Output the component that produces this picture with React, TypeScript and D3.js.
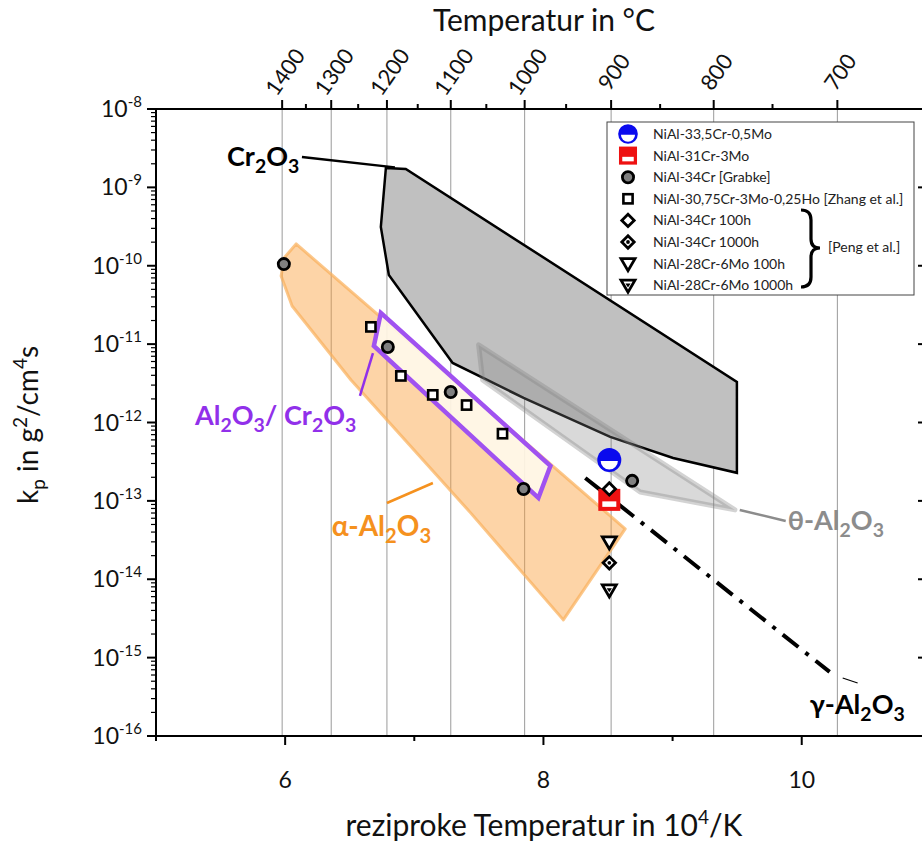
import React from "react";
import * as d3 from "d3";

const FONT = "Lato, 'Open Sans', Arial, sans-serif";

// ---- axes ----
const xMin = 5;
const xMax = 10.97;
const xTicksMajor = [6, 8, 10];
const xTicksMinor = [5, 7, 9];
const yExponents = [-8, -9, -10, -11, -12, -13, -14, -15, -16];
const tempMajor = [1400, 1300, 1200, 1100, 1000, 900, 800, 700];
const tempMinor = [1350, 1250, 1150, 1050, 950, 850, 750];

// ---- data series (x in 10^4/K, y = kp in g^2/cm^4 s) ----
const grabkeX = [5.99, 6.795, 7.282, 7.846, 8.687];
const grabkeY = [1.05e-10, 9.2e-12, 2.45e-12, 1.42e-13, 1.8e-13];
const zhangX = [6.664, 6.896, 7.143, 7.405, 7.683];
const zhangY = [1.66e-11, 3.93e-12, 2.25e-12, 1.67e-12, 7.2e-13];
const mo05X = [8.51];
const mo05Y = [3.33e-13];
const mo3X = [8.51];
const mo3Y = [1.03e-13];
const peng34_100X = [8.51];
const peng34_100Y = [1.42e-13];
const peng34_1000X = [8.51];
const peng34_1000Y = [1.62e-14];
const peng28_100X = [8.51];
const peng28_100Y = [3.0e-14];
const peng28_1000X = [8.51];
const peng28_1000Y = [7.3e-15];

// ---- regions ----
const cr2o3X = [6.78, 6.934, 9.498, 9.498, 9.004, 8.517, 7.846, 7.297, 6.803, 6.741];
const cr2o3Y = [1.77e-9, 1.72e-9, 3.3e-12, 2.28e-13, 3.53e-13, 6.55e-13, 2.06e-12, 5.75e-12, 7.64e-11, 3.13e-10];
const thetaX = [7.498, 7.529, 8.749, 9.483];
const thetaY = [9.77e-12, 3.49e-12, 1.3e-13, 7.67e-14];
const alphaX = [6.085, 8.633, 8.154, 7.436, 6.51, 6.054, 5.969, 5.992];
const alphaY = [1.9e-10, 4.4e-14, 3.03e-15, 7.03e-14, 3.49e-12, 3.07e-11, 7.41e-11, 1.26e-10];
const mixedX = [6.741, 8.054, 7.961, 6.687];
const mixedY = [2.5e-11, 2.79e-13, 1.09e-13, 9.48e-12];
const gammaX = [8.324, 10.216];
const gammaY = [1.96e-13, 6.59e-16];

// ---- annotations (data units) ----
const cr2o3Label = { x: 5.55, y: 1.88e-9, lx: [6.13, 6.85], ly: [2.44e-9, 1.8e-9] };
const mixedLabel = { x: 5.302, y: 9.3e-13, lx: [6.68, 6.579], ly: [7.7e-12, 2.18e-12] };
const alphaLabel = { x: 6.36, y: 3.56e-14, lx: [6.788, 7.144], ly: [9.4e-14, 1.69e-13] };
const thetaLabel = { x: 9.892, y: 4.25e-14, lx: [9.52, 9.876], ly: [7.66e-14, 5.53e-14] };
const gammaLabel = { x: 10.062, y: 1.9e-16, lx: [10.317, 10.433], ly: [5.5e-16, 4.74e-16] };

const legendNames = [
  "NiAl-33,5Cr-0,5Mo",
  "NiAl-31Cr-3Mo",
  "NiAl-34Cr [Grabke]",
  "NiAl-30,75Cr-3Mo-0,25Ho [Zhang et al.]",
  "NiAl-34Cr 100h",
  "NiAl-34Cr 1000h",
  "NiAl-28Cr-6Mo 100h",
  "NiAl-28Cr-6Mo 1000h",
];
const legendSymbols = ["half", "redsq", "gcircle", "square", "diamond", "diamonddot", "tri", "tridot"];

const x = d3.scaleLinear().domain([xMin, xMax]).range([156, 927]);
const y = d3.scaleLog().domain([1e-16, 1e-8]).range([736, 109]);

function Marker({ type, cx, cy, s = 1 }: { type: string; cx: number; cy: number; s?: number }) {
  if (type === "half") {
    const r = 12 * s;
    const rw = 8.6 * s;
    return (
      <g>
        <circle cx={cx} cy={cy} r={r} fill="#0a0aee" />
        <path d={`M${cx - rw},${cy + 1 * s} A${rw},${rw} 0 0 0 ${cx + rw},${cy + 1 * s} Z`} fill="#fff" />
      </g>
    );
  }
  if (type === "redsq") {
    const h = 11 * s;
    return (
      <g>
        <rect x={cx - h} y={cy - h} width={2 * h} height={2 * h} fill="#ee1111" />
        <rect x={cx - 7 * s} y={cy + 1.5 * s} width={14 * s} height={5.5 * s} fill="#fff" />
      </g>
    );
  }
  if (type === "gcircle") {
    return <circle cx={cx} cy={cy} r={5.6} fill="#808080" stroke="#000" strokeWidth={2.8} />;
  }
  if (type === "square") {
    return <rect x={cx - 4.6} y={cy - 4.6} width={9.2} height={9.2} fill="#fff" stroke="#000" strokeWidth={2.6} />;
  }
  if (type === "diamond" || type === "diamonddot") {
    const h = 6.2;
    return (
      <g>
        <path d={`M${cx},${cy - h} L${cx + h},${cy} L${cx},${cy + h} L${cx - h},${cy} Z`} fill="#fff" stroke="#000" strokeWidth={2.8} strokeLinejoin="miter" />
        {type === "diamonddot" && <circle cx={cx} cy={cy} r={1.9} fill="#000" />}
      </g>
    );
  }
  if (type === "tri" || type === "tridot") {
    return (
      <g>
        <path d={`M${cx - 7},${cy - 5} L${cx + 7},${cy - 5} L${cx},${cy + 7} Z`} fill="#fff" stroke="#000" strokeWidth={2.8} strokeLinejoin="miter" />
        {type === "tridot" && <path d={`M${cx - 2.6},${cy - 1.6} L${cx + 2.6},${cy - 1.6} L${cx},${cy + 2.4} Z`} fill="#000" />}
      </g>
    );
  }
  return null;
}

function poly(xs: number[], ys: number[]) {
  const line = d3.line<number>().x((_, i) => x(xs[i])).y((_, i) => y(ys[i]));
  return line(xs.map((_, i) => i)) + "Z";
}

function Label({ lab, parts, fill, fs, weight = 700, lw = 2.5 }: any) {
  return (
    <g>
      <line x1={x(lab.lx[0])} y1={y(lab.ly[0])} x2={x(lab.lx[1])} y2={y(lab.ly[1])} stroke={fill} strokeWidth={lw} />
      <text x={x(lab.x)} y={y(lab.y)} fontSize={fs} fontWeight={weight} fill={fill} fontFamily={FONT}>
        {parts.map((p: any, i: number) => (
          <tspan key={i} dy={p.sub ? 7 : p.after ? -7 : 0} fontSize={p.sub ? fs * 0.72 : fs}>
            {p.t}
          </tspan>
        ))}
      </text>
    </g>
  );
}

function chemParts(pre: string, el1: string, n1: string, el2: string, n2: string) {
  return [
    { t: pre + el1 },
    { t: n1, sub: true },
    { t: el2, after: true },
    { t: n2, sub: true },
  ];
}

export default function App() {
  const plotTop = 109;
  const plotBottom = 736;
  const plotLeft = 156;
  const plotRight = 927;

  const tempX = (t: number) => x(1e4 / (t + 273.15));

  const series = [
    { xs: grabkeX, ys: grabkeY, type: "gcircle" },
    { xs: zhangX, ys: zhangY, type: "square" },
    { xs: mo05X, ys: mo05Y, type: "half" },
    { xs: mo3X, ys: mo3Y, type: "redsq" },
    { xs: peng34_100X, ys: peng34_100Y, type: "diamond" },
    { xs: peng28_100X, ys: peng28_100Y, type: "tri" },
    { xs: peng34_1000X, ys: peng34_1000Y, type: "diamonddot" },
    { xs: peng28_1000X, ys: peng28_1000Y, type: "tridot" },
  ];

  const minorY: number[] = [];
  for (let e = -16; e < -8; e++) for (let m = 2; m <= 9; m++) minorY.push(m * Math.pow(10, e));

  const legX = 607, legY = 122, legW = 307, legH = 173;
  const rowY = (i: number) => 134 + i * 21.6;

  return (
    <svg width={922} height={843} style={{ position: "absolute", left: 0, top: 0, background: "#fff" }} fontFamily={FONT}>
      <rect width={922} height={843} fill="#fff" />
      {/* gridlines */}
      {tempMajor.map((t) => (
        <line key={t} x1={tempX(t)} x2={tempX(t)} y1={plotTop} y2={plotBottom} stroke="#9a9a9a" strokeWidth={1} />
      ))}
      {/* regions */}
      <path d={poly(alphaX, alphaY)} fill="rgb(251,160,60)" fillOpacity={0.45} stroke="rgb(250,175,90)" strokeOpacity={0.7} strokeWidth={3} strokeLinejoin="round" />
      <path d={poly(mixedX, mixedY)} fill="#fffbee" fillOpacity={0.88} stroke="#a052f0" strokeWidth={4.5} strokeLinejoin="miter" />
      <path d={poly(cr2o3X, cr2o3Y)} fill="#c0c0c0" stroke="#000" strokeWidth={2.5} strokeLinejoin="miter" />
      <path d={poly(thetaX, thetaY)} fill="#808080" fillOpacity={0.3} stroke="#808080" strokeOpacity={0.35} strokeWidth={5} strokeLinejoin="round" />
      {/* gamma line */}
      <line x1={x(gammaX[0])} y1={y(gammaY[0])} x2={x(gammaX[1])} y2={y(gammaY[1])} stroke="#000" strokeWidth={4} strokeDasharray="20 9 4 9" />

      {/* labels */}
      <Label lab={cr2o3Label} parts={chemParts("", "Cr", "2", "O", "3")} fill="#000" fs={27} />
      <Label lab={mixedLabel} parts={[{ t: "Al" }, { t: "2", sub: true }, { t: "O", after: true }, { t: "3", sub: true }, { t: "/ Cr", after: true }, { t: "2", sub: true }, { t: "O", after: true }, { t: "3", sub: true }]} fill="#9130ea" fs={27} />
      <Label lab={alphaLabel} parts={chemParts("α-", "Al", "2", "O", "3")} fill="#f5911e" fs={28} />
      <Label lab={thetaLabel} parts={chemParts("θ-", "Al", "2", "O", "3")} fill="#8c8c8c" fs={27} />
      <Label lab={gammaLabel} parts={chemParts("γ-", "Al", "2", "O", "3")} fill="#000" fs={27} lw={1.2} />

      {/* markers */}
      {series.map((s, si) => (
        <g key={si}>
          {s.xs.map((v, i) => (
            <Marker key={i} type={s.type} cx={x(v)} cy={y(s.ys[i])} />
          ))}
        </g>
      ))}

      {/* frame */}
      <line x1={plotLeft} x2={plotLeft} y1={plotTop} y2={plotBottom} stroke="#000" strokeWidth={2} />
      <line x1={plotRight} x2={plotRight} y1={plotTop} y2={plotBottom} stroke="#000" strokeWidth={2} />
      <line x1={plotLeft - 1} x2={plotRight + 1} y1={plotTop} y2={plotTop} stroke="#000" strokeWidth={2} />
      <line x1={plotLeft - 1} x2={plotRight + 1} y1={plotBottom} y2={plotBottom} stroke="#000" strokeWidth={2} />

      {/* left axis ticks */}
      {yExponents.map((e) => (
        <g key={e}>
          <line x1={plotLeft - 9} x2={plotLeft} y1={y(Math.pow(10, e))} y2={y(Math.pow(10, e))} stroke="#000" strokeWidth={2} />
          <line x1={plotRight - 9} x2={plotRight} y1={y(Math.pow(10, e))} y2={y(Math.pow(10, e))} stroke="#000" strokeWidth={2} />
          <text x={142} y={y(Math.pow(10, e)) + 8} textAnchor="end" fontSize={23} fill="#111">
            10
            <tspan dy={-10} fontSize={15}>{String(e)}</tspan>
          </text>
        </g>
      ))}
      {minorY.map((v, i) => (
        <line key={i} x1={plotLeft - 5} x2={plotLeft} y1={y(v)} y2={y(v)} stroke="#000" strokeWidth={1.2} />
      ))}
      {/* bottom axis */}
      {xTicksMajor.map((v) => (
        <g key={v}>
          <line x1={x(v)} x2={x(v)} y1={plotBottom} y2={plotBottom + 9} stroke="#000" strokeWidth={2} />
          <text x={x(v)} y={788} textAnchor="middle" fontSize={23} fill="#111">{v}</text>
        </g>
      ))}
      {xTicksMinor.map((v) => (
        <line key={v} x1={x(v)} x2={x(v)} y1={plotBottom} y2={plotBottom + 5} stroke="#000" strokeWidth={2} />
      ))}
      {/* top axis */}
      {tempMajor.map((t) => (
        <g key={t}>
          <line x1={tempX(t)} x2={tempX(t)} y1={plotTop - 9} y2={plotTop} stroke="#000" strokeWidth={2} />
          <text transform={`translate(${tempX(t) + 3},${72}) rotate(-55)`} textAnchor="middle" dy="0.35em" fontSize={22} fill="#111">{t}</text>
        </g>
      ))}
      {tempMinor.map((t) => (
        <line key={t} x1={tempX(t)} x2={tempX(t)} y1={plotTop - 5} y2={plotTop} stroke="#000" strokeWidth={2} />
      ))}

      {/* axis titles */}
      <text x={544} y={31} textAnchor="middle" fontSize={30} fill="#111">Temperatur in °C</text>
      <text x={544} y={836} textAnchor="middle" fontSize={30} fill="#111">
        reziproke Temperatur in 10<tspan dy={-12} fontSize={19}>4</tspan><tspan dy={12}>/K</tspan>
      </text>
      <text transform="translate(38,425) rotate(-90)" textAnchor="middle" fontSize={28} fill="#111">
        k<tspan dy={7} fontSize={19}>p</tspan><tspan dy={-7}> in g</tspan><tspan dy={-11} fontSize={19}>2</tspan><tspan dy={11}>/cm</tspan><tspan dy={-11} fontSize={19}>4</tspan><tspan dy={11}>s</tspan>
      </text>

      {/* legend */}
      <rect x={legX} y={legY} width={legW} height={legH} fill="#fff" stroke="#444" strokeWidth={1} />
      {legendNames.map((n, i) => (
        <g key={n}>
          <Marker type={legendSymbols[i]} cx={628} cy={rowY(i)} s={i < 2 ? 0.82 : 1} />
          <text x={653} y={rowY(i) + 5} fontSize={14} fill="#222">{n}</text>
        </g>
      ))}
      <path d="M801,210 Q811,210 811,220 L811,239 Q811,248 820,248 Q811,248 811,257 L811,277 Q811,287 801,287" fill="none" stroke="#000" strokeWidth={3.2} />
      <text x={828} y={252} fontSize={14} fill="#222">[Peng et al.]</text>
    </svg>
  );
}
